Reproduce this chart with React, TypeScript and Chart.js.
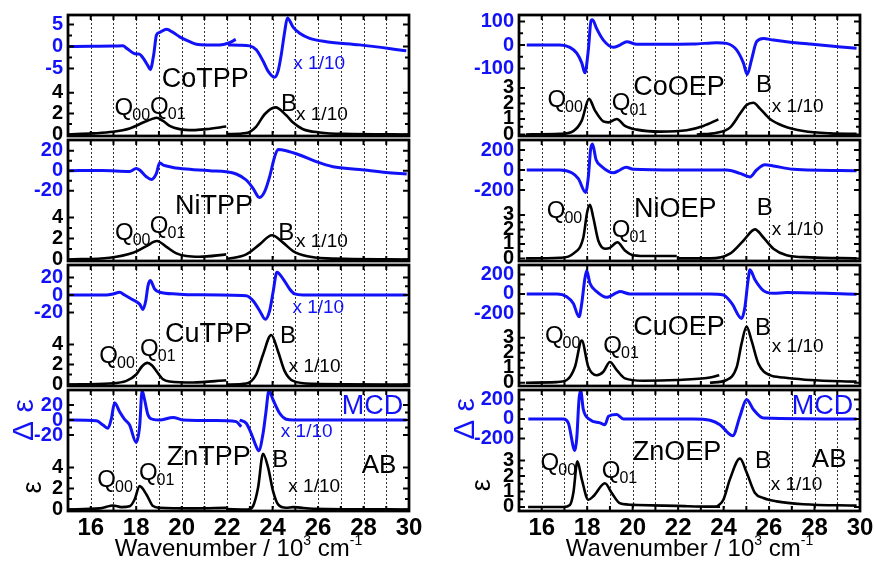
import React, { useEffect, useRef } from 'react';
import { Chart, registerables } from 'chart.js';

Chart.register(...registerables);

type Pt = [number, number];

const FONT = '"Liberation Sans", Arial, Helvetica, sans-serif';
const BLUE = '#1212f8';
Chart.defaults.font.family = FONT;

// ---------- axis values ----------
const X_MIN = 15;
const X_MAX = 30;
const xTickLabels = [16, 18, 20, 22, 24, 26, 28, 30];
const xGridValues = [16, 17, 18, 19, 20, 21, 22, 23, 24, 25, 26, 27, 28, 29];

// ---------- CoTPP ----------
const coTppMcdQ: Pt[] = [[15.05, 0], [16, 0.05], [17, 0.1], [17.42, 0.15], [17.57, -0.37], [18.0, -1.7], [18.12, -1.7], [18.3, -2.6], [18.52, -4.4], [18.62, -5.2], [18.77, -1.85], [18.89, 2.6], [19.03, 3.2], [19.33, 3.9], [19.62, 3.2], [19.91, 2.2], [20.35, 1.1], [20.65, 0.5], [21.08, 0.37], [21.67, 0.37], [22.04, 0.74], [22.38, 1.6]];
const coTppMcdB: Pt[] = [[22.04, 0.37], [22.55, 0.3], [22.99, 0.15], [23.28, -0.74], [23.58, -3.3], [23.8, -5.6], [24.09, -7.0], [24.24, -5.6], [24.38, -1.85], [24.53, 3.3], [24.65, 6.5], [24.9, 4.4], [25.19, 3.0], [25.63, 1.85], [26.36, 1.1], [27.83, 0.37], [29.88, -0.96]];
const coTppAbsQ: Pt[] = [[15, 0], [16.1, 0.1], [16.98, 0.25], [17.71, 0.57], [18.3, 1.14], [18.74, 1.52], [18.89, 1.6], [19.18, 1.3], [19.47, 0.83], [19.91, 0.51], [20.5, 0.41], [21.08, 0.51], [21.96, 0.76]];
const coTppAbsB: Pt[] = [[22.04, 0.03], [22.84, 0.13], [23.28, 0.76], [23.65, 1.94], [24.13, 2.6], [24.6, 1.84], [24.9, 1.14], [25.34, 0.5], [26.07, 0.19], [27.1, 0.05], [30, 0]];

// ---------- NiTPP ----------
const niTppMcd: Pt[] = [[15.05, 0], [16.5, 0.2], [17.71, -0.7], [18.0, 2.3], [18.15, 0.7], [18.45, -6], [18.67, -8.7], [18.89, -2.7], [19.03, 8], [19.18, 5.7], [19.33, 4.7], [19.62, 3.3], [20.2, 1.7], [21.23, 0], [21.96, -1], [22.4, -3.3], [22.84, -9.3], [23.14, -17.7], [23.36, -26], [23.43, -26.7], [23.65, -21], [23.87, -6], [24.09, 14], [24.24, 21.3], [24.6, 20], [25.19, 15.7], [25.92, 9], [26.66, 4], [27.83, 1.3], [29.0, -1.7], [29.9, -3.3]];
const niTppAbsQ: Pt[] = [[15, 0], [16.83, 0.16], [17.86, 0.63], [18.45, 1.27], [18.91, 1.75], [19.33, 1.2], [19.77, 0.57], [20.2, 0.32], [20.79, 0.25], [21.96, 0.48]];
const niTppAbsB: Pt[] = [[22.04, 0.06], [22.84, 0.48], [23.43, 1.43], [23.97, 2.3], [24.46, 1.6], [24.9, 0.8], [25.48, 0.32], [26.36, 0.1], [30, 0]];

// ---------- CuTPP ----------
const cuTppMcd: Pt[] = [[15.05, 0], [16.69, 0], [16.98, 1.2], [17.27, 3.1], [17.49, 0], [17.79, -4.6], [18.15, -10.4], [18.3, -16.5], [18.42, -6.5], [18.52, 10.8], [18.62, 16.5], [18.81, 6.9], [19.03, 3.1], [19.77, 1.2], [20.5, 0.4], [22.84, -0.8], [23.14, -6.5], [23.43, -18], [23.68, -27.7], [23.87, -18], [24.02, 3.1], [24.19, 26], [24.46, 18.5], [24.75, 6.9], [24.97, 1.2], [25.34, 0], [29.9, 0]];
const cuTppAbsQ: Pt[] = [[15, 0], [16.83, 0.1], [17.57, 0.36], [18.0, 1.0], [18.25, 1.8], [18.49, 2.16], [18.7, 1.9], [18.89, 1.34], [19.18, 0.52], [19.47, 0.3], [20.5, 0.2], [21.96, 0.43]];
const cuTppAbsB: Pt[] = [[22.04, 0], [22.84, 0.1], [23.28, 1.0], [23.58, 3.0], [23.94, 4.95], [24.24, 3.3], [24.53, 1.34], [24.9, 0.36], [25.78, 0.07], [30, 0]];

// ---------- ZnTPP ----------
const znTppMcdQ: Pt[] = [[15.05, 0], [16.25, -0.9], [16.54, -6.7], [16.76, -11], [16.91, 2.2], [17.05, 23], [17.27, 11], [17.49, 0.9], [17.71, -6.7], [18.0, -30], [18.15, -8.9], [18.26, 39], [18.37, 27], [18.52, 6.7], [18.74, 0.9], [19.03, 0], [19.62, 3.5], [20.06, 0], [21.96, -0.9], [22.4, -2.2], [22.62, -9]];
const znTppMcdB: Pt[] = [[22.55, 0], [22.84, -4.4], [23.06, -18], [23.28, -35.5], [23.39, -41], [23.58, -18], [23.7, 9], [23.84, 39], [24.02, 27], [24.31, 9], [24.6, 1], [24.9, 0], [29.9, 0]];
const znTppAbsQ: Pt[] = [[15, 0], [16.39, 0.1], [16.83, 0.32], [16.98, 0.38], [17.35, 0.22], [17.71, 0.3], [17.93, 0.95], [18.15, 2.22], [18.45, 1.43], [18.74, 0.32], [19.03, 0.16], [20.5, 0.1], [21.96, 0.16]];
const znTppAbsB: Pt[] = [[21.96, 0.03], [22.92, 0], [23.14, 0.32], [23.36, 2.06], [23.58, 5.3], [23.8, 4.0], [24.02, 1.75], [24.24, 0.48], [24.6, 0.16], [24.9, 0.22], [25.78, 0.06], [30, 0]];

// ---------- CoOEP ----------
const coOepMcd: Pt[] = [[15.34, 0], [16.8, 0], [17.24, -10], [17.54, -35], [17.76, -76], [17.9, -118], [18.05, -21], [18.17, 104], [18.23, 107], [18.42, 69], [18.71, 21], [19.15, -10], [19.44, 0], [19.74, 14], [20.18, 3], [21.2, 3], [22.67, 4], [23.7, 10], [24.13, 7], [24.57, -21], [24.87, -76], [25.04, -125], [25.23, -62], [25.45, 14], [25.75, 28], [26.19, 21], [26.77, 14], [27.8, 4], [29.85, -14]];
const coOepAbsQ: Pt[] = [[15.3, 0], [16.8, 0.04], [17.39, 0.22], [17.76, 0.89], [18.08, 2.3], [18.34, 1.55], [18.71, 0.84], [18.93, 0.78], [19.3, 1.0], [19.66, 0.55], [20.18, 0.31], [21.2, 0.18], [22.38, 0.27], [23.11, 0.55], [23.77, 0.97]];
const coOepAbsB: Pt[] = [[22.82, 0], [23.7, 0.11], [24.28, 0.44], [24.72, 1.33], [25.01, 1.9], [25.31, 2.05], [25.6, 1.67], [26.04, 1.0], [26.63, 0.55], [27.51, 0.22], [28.68, 0.07], [29.85, 0.04]];

// ---------- NiOEP ----------
const niOepMcd: Pt[] = [[15.34, 0], [16.8, 0], [17.32, -28], [17.61, -86], [17.93, -224], [18.05, -69], [18.15, 207], [18.23, 259], [18.39, 103], [18.64, 34], [19.15, -28], [19.44, 0], [19.71, 28], [20.03, 7], [21.94, 0], [24.13, 0], [24.72, -34], [25.16, -69], [25.45, 0], [25.82, 52], [26.19, 41], [27.07, 7], [29.85, -7]];
const niOepAbsQ: Pt[] = [[15.3, 0], [16.8, 0.04], [17.39, 0.33], [17.83, 1.44], [18.0, 3.2], [18.12, 3.7], [18.27, 2.8], [18.49, 1.22], [18.79, 0.67], [19.0, 0.73], [19.33, 1.11], [19.66, 0.55], [20.03, 0.22], [20.76, 0.16], [21.94, 0.16]];
const niOepAbsB: Pt[] = [[21.94, 0], [23.4, 0], [24.28, 0.33], [24.87, 1.22], [25.38, 2.0], [25.75, 1.44], [26.19, 0.67], [26.77, 0.22], [27.8, 0.07], [29.85, 0]];

// ---------- CuOEP ----------
const cuOepMcd: Pt[] = [[15.34, 0], [16.66, 0], [17.1, -28], [17.39, -97], [17.64, -234], [17.76, -97], [17.89, 145], [17.98, 241], [18.12, 110], [18.42, 24], [18.86, -34], [19.3, 14], [19.44, 24], [19.88, 0], [23.4, 0], [23.99, -10], [24.36, -97], [24.79, -252], [24.94, -130], [25.06, 110], [25.16, 248], [25.38, 145], [25.75, 34], [26.19, 7], [26.77, 14], [29.85, -3]];
const cuOepAbsQ: Pt[] = [[15.3, 0], [16.66, 0.04], [17.1, 0.18], [17.46, 1.05], [17.76, 2.8], [18.05, 1.05], [18.42, 0.5], [18.71, 0.73], [19.0, 1.38], [19.3, 0.84], [19.66, 0.29], [20.47, 0.13], [21.94, 0.18], [23.4, 0.35], [23.81, 0.5]];
const cuOepAbsB: Pt[] = [[23.4, 0], [24.13, 0.18], [24.58, 1.05], [24.79, 2.6], [25.01, 3.74], [25.23, 2.8], [25.53, 1.27], [26.04, 0.5], [26.63, 0.35], [27.8, 0.18], [29.85, 0.07]];

// ---------- ZnOEP ----------
const znOepMcd: Pt[] = [[15.41, 0], [16.95, 0], [17.17, -41], [17.46, -324], [17.54, -200], [17.64, 200], [17.71, 295], [17.83, 97], [18.12, -7], [18.56, -41], [18.78, -59], [18.94, 28], [19.3, 45], [19.59, 0], [22.67, 0], [23.4, -14], [23.84, -59], [24.4, -172], [24.72, 28], [25.01, 200], [25.31, 97], [25.75, 10], [29.85, 0]];
const znOepAbsQ: Pt[] = [[15.4, 0], [16.95, 0], [17.24, 0.13], [17.39, 0.9], [17.57, 2.95], [17.76, 1.8], [18.05, 0.47], [18.27, 0.69], [18.78, 1.53], [19.08, 0.9], [19.44, 0.24], [20.18, 0.13], [21.94, 0.07], [23.4, 0.02], [23.84, 0.02]];
const znOepAbsB: Pt[] = [[23.7, 0], [23.99, 0.47], [24.28, 1.8], [24.72, 3.13], [25.01, 2.24], [25.38, 0.9], [25.75, 0.58], [26.33, 0.36], [27.51, 0.18], [29.85, 0.09]];

// ---------- tick values ----------
const tppMcdTicksCo = [-5, 0, 5];
const tppMcdTicks = [-20, 0, 20];
const tppAbsTicks = [0, 2, 4];
const oepMcdTicksCo = [-100, 0, 100];
const oepMcdTicks = [-200, 0, 200];
const oepAbsTicks = [0, 1, 2, 3];

interface Note { t: string; sub?: string; x: number; y: number; size: number; blue?: boolean }
interface PanelDef {
  col: 0 | 1; row: number; split: number;
  mcd: Pt[][]; abs: Pt[][];
  mcdRange: [number, number]; absRange: [number, number];
  mcdTicks: number[]; mcdMinor: number;
  absTicks: number[]; absMinor: number;
  notes: Note[];
}

const Q = (sub: string, x: number, y: number): Note => ({ t: 'Q', sub, x, y, size: 24 });
const B = (x: number, y: number): Note => ({ t: 'B', x, y, size: 24 });
const X10 = (x: number, y: number, blue = false): Note => ({ t: 'x 1/10', x, y, size: 19, blue });
const NAME = (t: string, x: number, y: number): Note => ({ t, x, y, size: 27 });

const panels: PanelDef[] = [
  { col: 0, row: 0, split: 65, mcd: [coTppMcdQ, coTppMcdB], abs: [coTppAbsQ, coTppAbsB], mcdRange: [-7.61, 7.16], absRange: [-0.15, 5.23], mcdTicks: tppMcdTicksCo, mcdMinor: 2.5, absTicks: tppAbsTicks, absMinor: 1,
    notes: [NAME('CoTPP', 19.12, 4.59), Q('00', 17.05, 1.87), Q('01', 18.61, 1.96), B(24.37, 2.25), X10(25.03, 1.38), X10(24.91, 6.26, true)] },
  { col: 0, row: 1, split: 64, mcd: [niTppMcd], abs: [niTppAbsQ, niTppAbsB], mcdRange: [-33.3, 30.7], absRange: [-0.15, 5.28], mcdTicks: tppMcdTicks, mcdMinor: 10, absTicks: tppAbsTicks, absMinor: 1,
    notes: [NAME('NiTPP', 19.71, 4.32), Q('00', 17.07, 1.85), Q('01', 18.6, 2.49), B(24.25, 1.85), X10(25.03, 1.15)] },
  { col: 0, row: 2, split: 64, mcd: [cuTppMcd], abs: [cuTppAbsQ, cuTppAbsB], mcdRange: [-38.84, 34.3], absRange: [-0.15, 5.55], mcdTicks: tppMcdTicks, mcdMinor: 10, absTicks: tppAbsTicks, absMinor: 1,
    notes: [NAME('CuTPP', 19.27, 4.28), Q('00', 16.38, 2.18), Q('01', 18.17, 2.85), B(24.33, 4.12), X10(24.71, 1.28), X10(24.87, 7.12, true)] },
  { col: 0, row: 3, split: 64, mcd: [znTppMcdQ, znTppMcdB], abs: [znTppAbsQ, znTppAbsB], mcdRange: [-45.33, 40], absRange: [-0.15, 5.28], mcdTicks: tppMcdTicks, mcdMinor: 10, absTicks: tppAbsTicks, absMinor: 1,
    notes: [NAME('ZnTPP', 19.34, 4.23), Q('00', 16.29, 2.16), Q('01', 18.12, 2.8), B(23.99, 4.0), X10(24.69, 1.69), X10(24.36, 6.92, true), { t: 'MCD', x: 27.04, y: 9.09, size: 27, blue: true }, { t: 'AB', x: 27.92, y: 3.44, size: 26 }] },
  { col: 1, row: 0, split: 64, mcd: [coOepMcd], abs: [coOepAbsQ, coOepAbsB], mcdRange: [-144.6, 127.7], absRange: [-0.1, 3.58], mcdTicks: oepMcdTicksCo, mcdMinor: 50, absTicks: oepAbsTicks, absMinor: 0.5,
    notes: [NAME('CoOEP', 20.03, 2.55), Q('00', 16.25, 1.79), Q('01', 19.08, 1.58), B(25.43, 2.76), X10(26.12, 1.47)] },
  { col: 1, row: 1, split: 62, mcd: [niOepMcd], abs: [niOepAbsQ, niOepAbsB], mcdRange: [-320, 300], absRange: [-0.18, 3.89], mcdTicks: oepMcdTicks, mcdMinor: 100, absTicks: oepAbsTicks, absMinor: 0.5,
    notes: [NAME('NiOEP', 20.06, 2.88), Q('00', 16.22, 2.77), Q('01', 19.08, 1.5), B(25.46, 2.99), X10(26.12, 1.61)] },
  { col: 1, row: 2, split: 62, mcd: [cuOepMcd], abs: [cuOepAbsQ, cuOepAbsB], mcdRange: [-338.9, 297], absRange: [-0.22, 3.71], mcdTicks: oepMcdTicks, mcdMinor: 100, absTicks: oepAbsTicks, absMinor: 0.5,
    notes: [NAME('CuOEP', 20.03, 3.18), Q('00', 16.14, 2.67), Q('01', 18.71, 1.96), B(25.38, 3.18), X10(26.12, 2.07)] },
  { col: 1, row: 3, split: 62, mcd: [znOepMcd], abs: [znOepAbsQ, znOepAbsB], mcdRange: [-338.9, 297], absRange: [-0.26, 3.55], mcdTicks: oepMcdTicks, mcdMinor: 100, absTicks: oepAbsTicks, absMinor: 0.5,
    notes: [NAME('ZnOEP', 20.0, 3.03), Q('00', 15.95, 2.39), Q('01', 18.64, 1.85), B(25.38, 2.5), X10(26.07, 1.1), { t: 'MCD', x: 27.0, y: 6.0, size: 27, blue: true }, { t: 'AB', x: 27.88, y: 2.6, size: 26 }] },
];

// ---------- layout ----------
const PAGE_W = 874;
const PAGE_H = 566;
const COL_X = [0, 437];
const COL_W = [437, 460];
const PLOT_LEFT = [68, 519];
const PLOT_W = 341;
const ROW_TOP = [15, 140, 265, 390];
const PLOT_H = 121;
const PAD_V = 20;

function range(a: number, b: number, step: number): number[] {
  const out: number[] = [];
  for (let v = a; v <= b + 1e-9; v += step) out.push(Math.round(v * 1000) / 1000);
  return out;
}

function makeDeco(p: PanelDef, bottom: boolean) {
  return {
    id: 'deco',
    beforeDatasetsDraw(chart: any) {
      const { ctx, chartArea: a, scales } = chart;
      ctx.save();
      ctx.strokeStyle = '#333';
      ctx.lineWidth = 1;
      ctx.setLineDash([2, 2]);
      for (const g of xGridValues) {
        const px = Math.round(scales.x.getPixelForValue(g)) + 0.5;
        ctx.beginPath();
        ctx.moveTo(px, a.top);
        ctx.lineTo(px, a.bottom);
        ctx.stroke();
      }
      ctx.restore();
    },
    afterDatasetsDraw(chart: any) {
      const { ctx, chartArea: a, scales } = chart;
      const xs = scales.x, yM = scales.yM, yA = scales.yA;
      ctx.save();
      ctx.strokeStyle = '#000';
      ctx.lineWidth = 2;
      for (const g of xGridValues) {
        const px = xs.getPixelForValue(g);
        ctx.beginPath();
        ctx.moveTo(px, a.top); ctx.lineTo(px, a.top + 5);
        ctx.moveTo(px, a.bottom); ctx.lineTo(px, a.bottom - 5);
        ctx.stroke();
      }
      const yTick = (scale: any, majors: number[], minor: number) => {
        const lo = Math.min(...majors), hi = Math.max(...majors);
        for (const v of range(lo, hi, minor)) {
          const isMajor = majors.some((m) => Math.abs(m - v) < 1e-6);
          const len = isMajor ? 6 : 4;
          const py = scale.getPixelForValue(v);
          ctx.beginPath();
          ctx.moveTo(a.left, py); ctx.lineTo(a.left + len, py);
          ctx.moveTo(a.right, py); ctx.lineTo(a.right - len, py);
          ctx.stroke();
        }
      };
      yTick(yM, p.mcdTicks, p.mcdMinor);
      yTick(yA, p.absTicks, p.absMinor);
      ctx.lineWidth = 2.75;
      ctx.strokeRect(a.left, a.top, a.right - a.left, a.bottom - a.top);
      ctx.textAlign = 'left';
      ctx.textBaseline = 'alphabetic';
      for (const n of p.notes) {
        const px = xs.getPixelForValue(n.x);
        const py = yA.getPixelForValue(n.y);
        ctx.fillStyle = n.blue ? BLUE : '#000';
        ctx.font = `${n.size}px ${FONT}`;
        ctx.fillText(n.t, px, py);
        if (n.sub) {
          const w = ctx.measureText(n.t).width;
          ctx.font = `16px ${FONT}`;
          ctx.fillText(n.sub, px + w - 1, py + 5);
        }
      }
      if (bottom) {
        const parts: [string, boolean][] = [['Wavenumber / 10', false], ['3', true], [' cm', false], ['-1', true]];
        let total = 0;
        for (const [t, sup] of parts) {
          ctx.font = `${sup ? 14 : 24}px ${FONT}`;
          total += ctx.measureText(t).width;
        }
        let cx = (a.left + a.right) / 2 - total / 2;
        const base = a.bottom + 45;
        ctx.fillStyle = '#000';
        for (const [t, sup] of parts) {
          ctx.font = `${sup ? 14 : 24}px ${FONT}`;
          ctx.fillText(t, cx, sup ? base - 11 : base);
          cx += ctx.measureText(t).width;
        }
        const rot = (t: string, x: number, y: number, size: number, color: string) => {
          ctx.save();
          ctx.translate(x, y);
          ctx.rotate(-Math.PI / 2);
          ctx.textAlign = 'center';
          ctx.textBaseline = 'middle';
          ctx.font = `${size}px ${FONT}`;
          ctx.fillStyle = color;
          ctx.fillText(t, 0, 0);
          ctx.restore();
        };
        const left = p.col === 0;
        rot('Δ ε', a.left + (left ? -43 : -53), yM.getPixelForValue(0), 30, BLUE);
        rot('ε', a.left + (left ? -34 : -36), yA.getPixelForValue(left ? 2.1 : 1.4), 27, '#000');
      }
      ctx.restore();
    },
  };
}

function makeConfig(p: PanelDef): any {
  const bottom = p.row === 3;
  const canvasTop = ROW_TOP[p.row] - PAD_V;
  const canvasH = bottom ? PAGE_H - canvasTop : PLOT_H + 2 * PAD_V;
  const axisW = PLOT_LEFT[p.col] - COL_X[p.col];
  const padRight = COL_W[p.col] - axisW - PLOT_W;
  const xAxisH = canvasH - PAD_V - PLOT_H;

  const toXY = (seg: Pt[]) => seg.map(([x, y]) => ({ x, y }));
  const datasets = [
    ...p.abs.map((seg) => ({ data: toXY(seg), yAxisID: 'yA', borderColor: '#000', borderWidth: 2.6, pointRadius: 0, cubicInterpolationMode: 'monotone', fill: false, clip: false })),
    ...p.mcd.map((seg) => ({ data: toXY(seg), yAxisID: 'yM', borderColor: BLUE, borderWidth: 3, pointRadius: 0, cubicInterpolationMode: 'monotone', fill: false, clip: false })),
  ];

  const yAxis = (rangeV: [number, number], ticks: number[], color: string, weight: number) => ({
    type: 'linear',
    position: 'left',
    stack: 'panel',
    stackWeight: weight,
    min: rangeV[0],
    max: rangeV[1],
    afterFit: (s: any) => { s.width = axisW; },
    afterBuildTicks: (s: any) => { s.ticks = ticks.map((v) => ({ value: v })); },
    grid: { display: false, drawTicks: false },
    border: { display: false },
    ticks: { color, padding: 5, autoSkip: false, font: { size: 20, weight: 'bold', family: FONT }, callback: (v: any) => String(v) },
  });

  return {
    type: 'line',
    data: { datasets },
    options: {
      animation: false,
      responsive: false,
      maintainAspectRatio: false,
      devicePixelRatio: 1,
      layout: { padding: { left: 0, right: padRight, top: PAD_V, bottom: bottom ? 0 : PAD_V } },
      plugins: { legend: { display: false }, tooltip: { enabled: false }, title: { display: false } },
      scales: {
        x: {
          type: 'linear',
          min: X_MIN,
          max: X_MAX,
          display: bottom,
          position: 'bottom',
          afterFit: (s: any) => { if (bottom) s.height = xAxisH; },
          afterBuildTicks: (s: any) => { s.ticks = xTickLabels.map((v) => ({ value: v })); },
          grid: { display: false, drawTicks: false },
          border: { display: false },
          ticks: { color: '#000', padding: 3, autoSkip: false, maxRotation: 0, font: { size: 24, weight: 'bold', family: FONT }, callback: (v: any) => String(v) },
        },
        yA: yAxis(p.absRange, p.absTicks, '#000', PLOT_H - p.split),
        yM: yAxis(p.mcdRange, p.mcdTicks, BLUE, p.split),
      },
    },
    plugins: [makeDeco(p, bottom)],
  };
}

function Panel({ p }: { p: PanelDef }) {
  const ref = useRef<HTMLCanvasElement>(null);
  const bottom = p.row === 3;
  const top = ROW_TOP[p.row] - PAD_V;
  const height = bottom ? PAGE_H - top : PLOT_H + 2 * PAD_V;
  const left = COL_X[p.col];
  const width = COL_W[p.col];
  useEffect(() => {
    const chart = new Chart(ref.current as HTMLCanvasElement, makeConfig(p));
    return () => chart.destroy();
  }, [p]);
  return (
    <canvas
      ref={ref}
      width={width}
      height={height}
      style={{ position: 'absolute', left, top, width, height, display: 'block' }}
    />
  );
}

export default function App() {
  return (
    <div style={{ position: 'fixed', left: 0, top: 0, width: PAGE_W, height: PAGE_H, background: '#fff', overflow: 'hidden' }}>
      {panels.map((p, i) => (
        <Panel key={i} p={p} />
      ))}
    </div>
  );
}
